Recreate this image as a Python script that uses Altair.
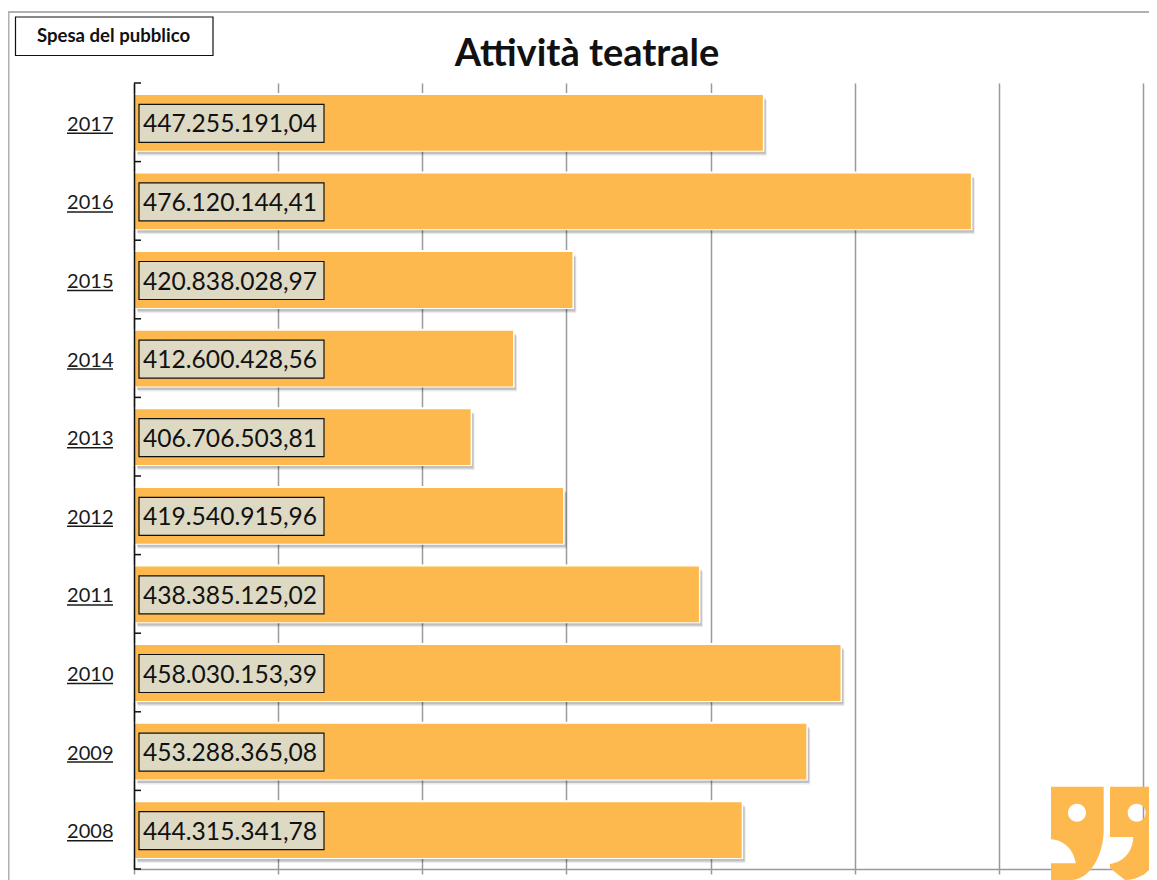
import altair as alt
import pandas as pd

years = ["2017", "2016", "2015", "2014", "2013", "2012", "2011", "2010", "2009", "2008"]
values = [447255191.04, 476120144.41, 420838028.97, 412600428.56, 406706503.81,
          419540915.96, 438385125.02, 458030153.39, 453288365.08, 444315341.78]
labels = ["447.255.191,04", "476.120.144,41", "420.838.028,97", "412.600.428,56", "406.706.503,81",
          "419.540.915,96", "438.385.125,02", "458.030.153,39", "453.288.365,08", "444.315.341,78"]
x_ticks = [360e6, 380e6, 400e6, 420e6, 440e6, 460e6, 480e6, 500e6]

ORANGE = "#FDB94D"
BEIGE = "#DDD9C3"
FONT = "Lato"

# plot area origin is at page (134, 83); each annotation below is relative to it
OX, OY = 134 - 8, 83 - 8
W, H = 1009, 786
STEP = H / len(years)
SVG_W, SVG_H = 1141, 872

df = pd.DataFrame({"year": years, "value": values, "label": labels})
df["base"] = x_ticks[0]
base = alt.Chart(df)

xs = alt.Scale(domain=[x_ticks[0], x_ticks[-1]], nice=False, zero=False)
X = alt.X("value:Q", scale=xs, stack=None,
          axis=alt.Axis(values=x_ticks, labels=False, title=None, grid=True, gridColor="#9a9a9a",
                        gridWidth=1.5, domainColor="#9a9a9a", domainWidth=1.5, tickColor="#9a9a9a",
                        tickSize=5, tickWidth=1.5))
X2 = alt.X2("base:Q")
Y = alt.Y("year:N", sort=years, title=None,
          scale=alt.Scale(paddingInner=0.29, paddingOuter=0.145),
          axis=alt.Axis(ticks=False, labelFont=FONT, labelFontSize=20, labelColor="#1a1a1a",
                        labelPadding=21, labelOffset=2.5, domainColor="#111111", domainWidth=1.5, zindex=1))

shadow2 = base.mark_bar(color="#000000", opacity=0.08, xOffset=4, x2Offset=4, yOffset=5.5, y2Offset=5.5).encode(x=X, x2=X2, y=Y)
shadow1 = base.mark_bar(color="#000000", opacity=0.18, xOffset=3, x2Offset=3, yOffset=4, y2Offset=4).encode(x=X, x2=X2, y=Y)
halo = base.mark_bar(color="#FFFFFF", stroke="#FFFFFF", strokeWidth=3).encode(x=X, x2=X2, y=Y)
bars = base.mark_bar(color=ORANGE, yOffset=0.5, y2Offset=0.5).encode(x=X, x2=X2, y=Y)

ticks = base.mark_rule(color="#111111", strokeWidth=1.5, yOffset=-STEP / 2).encode(
    y=alt.Y("year:N", sort=years), x=alt.value(0), x2=alt.value(7))
end_tick = alt.Chart(pd.DataFrame({"year": years[-1:]})).mark_rule(
    color="#111111", strokeWidth=1.5, yOffset=STEP / 2).encode(
    y=alt.Y("year:N", sort=years), x=alt.value(0), x2=alt.value(7))

underline = base.mark_rule(color="#1a1a1a", strokeWidth=1.5, yOffset=11).encode(
    y=alt.Y("year:N", sort=years), x=alt.value(67 - 134), x2=alt.value(113 - 134))

box = base.mark_bar(color=BEIGE, stroke="#111111", strokeWidth=1.2, height=38, yOffset=1).encode(
    y=alt.Y("year:N", sort=years), x=alt.value(139 - 134), x2=alt.value(324 - 134))
text = base.mark_text(align="left", baseline="middle", font=FONT, fontSize=24.6, color="#111111", dy=3).encode(
    y=alt.Y("year:N", sort=years), x=alt.value(143 - 134), text="label:N")

one = alt.Chart(pd.DataFrame({"t": ["Spesa del pubblico"]}))
frame_top = one.mark_rule(color="#b0b0b0", strokeWidth=2).encode(
    x=alt.value(-OX), x2=alt.value(1157 - 134), y=alt.value(12 - 83))
frame_left = one.mark_rule(color="#b0b0b0", strokeWidth=2).encode(
    x=alt.value(-OX + 0.5), y=alt.value(12 - 83), y2=alt.value(880 - 83))
tag_box = one.mark_rect(fill="#FFFFFF", stroke="#111111", strokeWidth=1.2).encode(
    x=alt.value(15.5 - 134), x2=alt.value(213 - 134), y=alt.value(17 - 83), y2=alt.value(55.5 - 83))
tag_text = one.mark_text(font=FONT, fontWeight="bold", fontSize=18.6, color="#111111", baseline="middle").encode(
    x=alt.value(113.5 - 134), y=alt.value(36 - 83), text="t:N")
title = alt.Chart(pd.DataFrame({"t": ["Attività teatrale"]})).mark_text(
    font=FONT, fontWeight="bold", fontSize=38, color="#111111", baseline="middle").encode(
    x=alt.value(587 - 134), y=alt.value(55 - 83), text="t:N")

# closing quotation marks, drawn around (1104, 833), path units are 1/100 px
QUOTES = ("M-0.53 -0.463 L-0.003 -0.463 L-0.003 -0.03 C-0.003 0.2 -0.13 0.47 -0.33 0.47 L-0.53 0.5 L-0.53 0.303 "
          "L-0.283 0.303 C-0.30 0.17 -0.40 0.07 -0.53 0.063 Z "
          "M-0.18 -0.203 A0.09 0.09 0 1 0 -0.36 -0.203 A0.09 0.09 0 1 0 -0.18 -0.203 Z "
          "M0.06 -0.463 L0.6 -0.463 L0.6 -0.03 C0.6 0.2 0.47 0.47 0.21 0.47 L0.06 0.35 L0.06 0.31 "
          "C0.2 0.29 0.29 0.18 0.293 0.04 L0.06 0.04 Z "
          "M0.417 -0.203 A0.09 0.09 0 1 0 0.237 -0.203 A0.09 0.09 0 1 0 0.417 -0.203 Z")
quotes = one.mark_point(shape=QUOTES, filled=True, fill=ORANGE, opacity=1, size=40000).encode(
    x=alt.value(1104 - 134), y=alt.value(833 - 83))

chart = alt.layer(
    frame_top, frame_left, shadow2, shadow1, halo, bars, ticks, end_tick, underline, box, text,
    tag_box, tag_text, title, quotes
).properties(
    width=W, height=H,
    autosize=alt.AutoSizeParams(type="none"),
    padding={"left": OX, "top": OY, "right": SVG_W - OX - W, "bottom": SVG_H - OY - H},
).configure_view(stroke=None)

chart.save("out.html", embed_options={"renderer": "svg", "actions": False})
